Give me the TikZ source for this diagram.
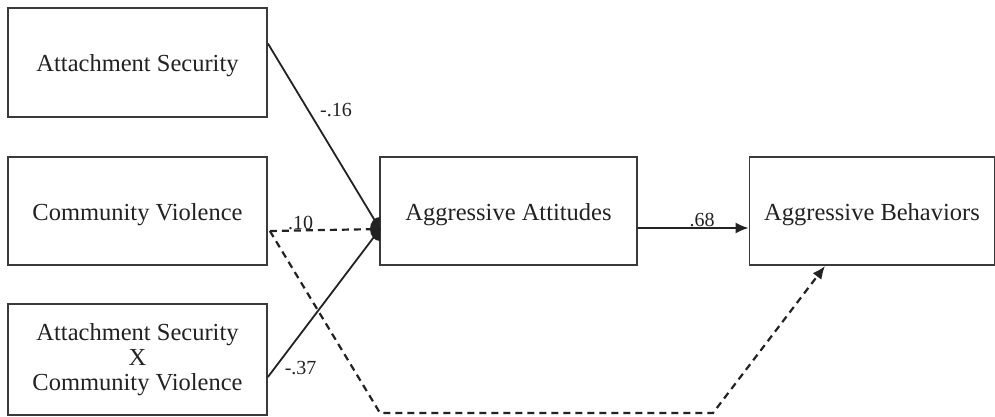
\documentclass[tikz,border=0pt]{standalone}
\usepackage{fontspec}
\setmainfont{Liberation Serif}
\usetikzlibrary{arrows.meta,calc}
\definecolor{cedge}{HTML}{3A3A3A}
\definecolor{cdark}{HTML}{222222}

\begin{document}
\begin{tikzpicture}[x=1pt,y=-1pt,
  var/.style={draw=cedge, line width=1.8pt, fill=white, align=center, inner sep=0pt, text=cdark, font=\fontsize{24.5}{25}\selectfont},
  one/.style={var, text height=24pt, text depth=6pt},
  lbl/.style={font=\fontsize{20}{22}\selectfont, text=cdark, inner sep=1pt},
  path/.style={line width=1.8pt, draw=cdark},
  arr/.style={path, -{Latex[length=13pt,width=11pt]}},
  dline/.style={path, line width=2.2pt, dashed, dash pattern=on 7pt off 5pt},
  darr/.style={arr, dline}]

\useasboundingbox (0,0) rectangle (995,417);

\node[one, minimum width=259pt, minimum height=109pt] (as) at (137.5,62.5) {Attachment Security};
\node[one, minimum width=259pt, minimum height=108pt] (cv) at (137.5,211) {Community Violence};
\node[var, minimum width=259pt, minimum height=111pt] (ax) at (137.5,359.5) {Attachment Security\\X\\Community Violence};
\node[one, minimum width=257pt, minimum height=108pt] (att) at (508.5,211) {Aggressive Attitudes};
\node[one, minimum width=245pt, minimum height=108pt] (beh) at (872,211) {Aggressive Behaviors};
\coordinate (hub) at (380,229);
\coordinate (dn) at (380,413);
\coordinate (dm) at (713,413);
\coordinate (tip) at (825,266);

% paths into the attitudes box
\draw[path] ($(as.east)+(0,-19)$) -- node[lbl, pos=0.36, right=10pt] {-.16} (hub);
\draw[dline] ($(cv.east)+(2,20)$) -- node[lbl, pos=0.28, above=-1pt] {.10} (hub);
\draw[path] ($(ax.east)+(0,17.5)$) -- node[lbl, pos=0, anchor=west, xshift=15pt, yshift=9pt] {-.37} (hub);
\begin{scope}
  \clip ($(hub)+(-12,-13)$) rectangle ($(hub)+(0,13)$);
  \fill[cdark] (hub) ellipse (10pt and 12pt);
\end{scope}
\draw[arr] ($(att.east)+(0,17)$) -- node[lbl, pos=0.58, above=-1pt] {.68} ($(beh.west)+(0,17)$);

% direct path
\draw[darr] ($(cv.east)+(2,20)$) -- (dn) -- (dm) -- (tip);
\end{tikzpicture}
\end{document}
